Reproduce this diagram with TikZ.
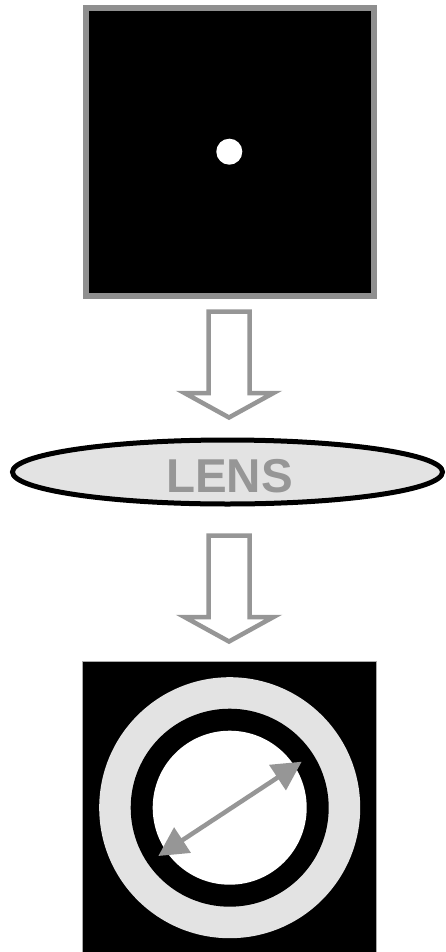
\documentclass[tikz,border=0pt]{standalone}
\usepackage{fontspec}
\setmainfont{Liberation Sans}
\usetikzlibrary{shapes.geometric,arrows.meta,calc}
\definecolor{bordergray}{RGB}{143,143,143}
\definecolor{arrowgray}{RGB}{150,150,150}
\definecolor{thingray}{RGB}{170,170,170}
\definecolor{lightfill}{RGB}{227,227,227}
\begin{document}
\begin{tikzpicture}[x=1pt,y=-1pt,
  srcbox/.style={rectangle,draw=bordergray,line width=5.7pt,fill=black,minimum width=288pt,minimum height=288pt,inner sep=0pt},
  dot/.style={circle,fill=white,minimum size=26pt,inner sep=0pt},
  hollow/.style={draw=arrowgray,fill=white,line width=4.5pt,line join=miter},
  lensshape/.style={ellipse,draw=black,line width=5pt,fill=lightfill,minimum width=430pt,minimum height=64pt,inner sep=0pt},
  lenstext/.style={text=arrowgray,font=\bfseries\fontsize{47.5}{50}\selectfont,inner sep=0pt},
  detbox/.style={rectangle,draw=thingray,line width=1pt,fill=black,minimum width=293.3pt,minimum height=310pt,inner sep=0pt},
  ring/.style={circle,inner sep=0pt,minimum size=#1},
  gauge/.style={draw=arrowgray,line width=4.5pt,{Triangle[length=29pt,width=29.5pt]}-{Triangle[length=29pt,width=29.5pt]}}
]
\useasboundingbox (0,0) rectangle (445,952);
\clip (0,0) rectangle (445,952);

% source square with point
\node[srcbox] (src) at (229.9,152) {};
\node[dot] (pt) at (229.3,151.7) {};

% first hollow arrow
\coordinate (a1) at (229,311.5);
\draw[hollow,shift={(a1)}] (-20.5,0) -- (20.5,0) -- (20.5,81.5) -- (44.5,81.5) -- (0,106) -- (-44.5,81.5) -- (-20.5,81.5) -- cycle;

% lens
\node[lensshape] (lens) at (227.5,472) {};
\node[lenstext] (lenslabel) at (229.5,476.3) {LENS};

% second hollow arrow
\coordinate (a2) at (229,535.5);
\draw[hollow,shift={(a2)}] (-20.5,0) -- (20.5,0) -- (20.5,81.5) -- (44.5,81.5) -- (0,106) -- (-44.5,81.5) -- (-20.5,81.5) -- cycle;

% detector image
\node[detbox] (det) at (229.4,816) {};
\node[ring=261pt,fill=lightfill] (outer) at (229.7,807.7) {};
\node[ring=198pt,fill=black] (mid) at (229.7,807.7) {};
\node[ring=154pt,fill=white] (inner) at (229.7,807.7) {};

\coordinate (d1) at (158.3,856);
\coordinate (d2) at (301.7,761.7);
\draw[gauge] (d1) -- (d2);
\end{tikzpicture}
\end{document}
